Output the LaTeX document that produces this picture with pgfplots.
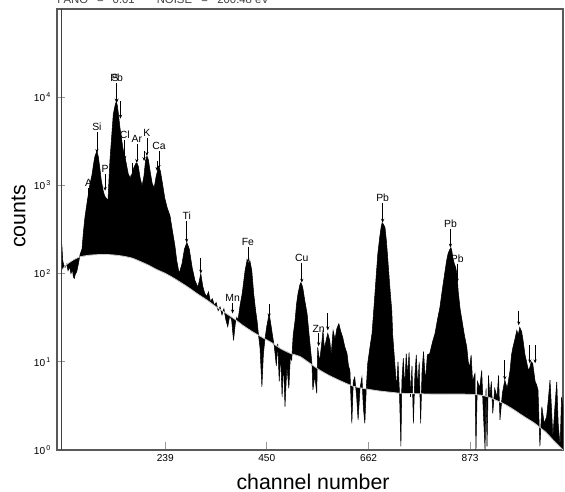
\documentclass[border=0pt]{standalone}
\usepackage{fontspec}
\setmainfont{Liberation Sans}
\usepackage{pgfplots}
\pgfplotsset{compat=1.18}
\usepgfplotslibrary{fillbetween}
\usetikzlibrary{arrows.meta}

% peak marker: channel, arrow tail, arrow head, label
\newcommand{\pk}[4]{%
  \draw[-{Stealth[length=3pt,width=2.4pt]}, line width=0.5pt] (axis cs:#1,#2) -- (axis cs:#1,#3);
  \node[anchor=south, inner sep=0.8pt, font=\fontsize{7.8}{9}\selectfont] at (axis cs:#1,#2) {#4};}
\newcommand{\ar}[3]{%
  \draw[-{Stealth[length=3pt,width=2.4pt]}, line width=0.5pt] (axis cs:#1,#2) -- (axis cs:#1,#3);}

\begin{document}
\begin{tikzpicture}
\begin{axis}[
  scale only axis, width=379.5pt, height=330.75pt,
  xmin=14, xmax=1066, ymin=1, ymax=1e5, ymode=log,
  xtick={239,450,662,873}, xticklabels={239,450,662,873},
  ytick={1,10,100,1000,10000},
  yticklabels={10\textsuperscript{\,0},10\textsuperscript{\,1},10\textsuperscript{\,2},10\textsuperscript{\,3},10\textsuperscript{\,4}},
  yminorticks=false,
  tick pos=left, tick align=inside, major tick length=6pt,
  tick style={black!40, line width=0.6pt},
  axis line style={black!65, line width=0.8pt},
  ticklabel style={font=\fontsize{7.6}{9}\selectfont},
  yticklabel style={xshift=-1pt},
  xlabel={channel number}, ylabel={counts},
  label style={font=\fontsize{16}{18}\selectfont},
  xlabel style={at={(axis description cs:0.506,-0.072)}, anchor=center},
  ylabel style={at={(axis description cs:-0.076,0.53)}, anchor=center},
]
% measured spectrum
\addplot[name path=spec, draw=black, line width=0.4pt] coordinates {
(24,215) (26,140) (28,125) (31,118) (34,128) (37,108) (40,120) (43,100) (46,112) (48,92) (50,88) (52,98) (55,105) (58,125)
(62,165) (66,190) (69,300) (72,430) (75,560) (78,720) (82,1000) (87,1340) (90,1750) (93,2150) (97,2450) (100,2100)
(103,1580) (106,1150) (110,870) (113,760) (116,720) (120,680) (124,1900) (128,3800) (131,6400) (135,8200) (137,8800)
(139,8300) (141,6950) (145,4450) (151,2650) (157,1890) (162,1360) (166,1215) (170,1350) (174,1600) (178,1780) (180,1800)
(183,1650) (187,1200) (191,990) (195,1300) (198,1900) (201,2150) (204,1950) (208,1400) (212,1050) (216,940) (220,1250)
(224,1550) (226,1600) (229,1450) (234,990) (238,720) (243,560) (249,450) (253,330) (259,210) (263,140) (268,100)
(274,130) (279,190) (284,225) (289,190) (295,117) (301,83) (307,70) (313,100) (317,72) (321,60) (325,55) (329,62)
(333,48) (337,52) (341,44) (345,47) (349,38) (353,42) (357,34) (361,40) (365,30) (369,25) (373,33) (377,30) (381,17.5)
(385,28) (388,32) (390,29) (395,45) (399,59) (405,108) (409,140) (413,130) (415,140) (419,108) (423,59) (427,38)
(430,29) (433,20) (436,14.6) (440,5.2) (443,12) (446,17.5) (450,25) (455,35) (458,28) (462,20) (466,14.6) (470,9)
(473,16) (476,6) (479,12) (482,4) (485,10) (488,3.1) (492,9) (496,5) (499,11) (502,10.4) (505,20) (509,29.4) (512,45)
(515,59) (519,75) (521,79) (523,75) (525,69) (529,50) (534,35) (539,18) (544,9.6) (546,4.8) (550,7) (554,4.4)
(556,14.6) (560,10) (565,17.5) (567,22.7) (570,14) (574,18) (577,21) (581,17.5) (584,12) (588,22.7) (592,18) (596,24)
(600,27) (604,22) (608,19) (612,15) (617,12.4) (620,9) (623,8) (625,4) (627,2) (630,6) (633,6.7) (637,4) (640,2.2)
(644,5) (648,6.7) (651,3) (654,2) (657,5) (660,9.6) (665,15) (669,21) (672,35) (675,59) (678,100) (681,168) (685,260)
(688,340) (690,377) (693,360) (696,331) (699,230) (702,140) (706,70) (710,38) (712,20) (715,12) (717,8.6) (720,5)
(723,10) (726,4.5) (729,1.1) (731,6) (734,11) (737,5) (740,12.4) (743,7) (746,12.8) (749,4) (752,9) (755,2) (758,7)
(761,12) (764,5) (767,10) (770,2) (773,8) (776,13) (780,6) (784,12) (789,12.4) (795,17) (800,21) (805,30) (810,41)
(815,65) (820,100) (824,140) (827,168) (830,185) (833,197) (835,180) (837,150) (840,130) (843,117) (846,95) (848,64)
(852,40) (856,29.4) (861,20) (866,14.6) (869,10) (872,8.6) (875,12) (878,6) (883,7.4) (885,1) (888,6) (893,5.1)
(897,8) (900,3) (904,1) (906,5) (908,1.1) (911,7) (914,4) (917,6) (920,2.6) (924,5) (929,4) (932,7) (935,2.2)
(940,4.4) (945,6.2) (950,5) (956,8) (959,12) (962,14.6) (966,18) (970,22.7) (973,20) (976,24.6) (980,22) (983,17.5)
(987,12) (991,9.6) (994,8) (997,8.6) (1000,10) (1003,9.6) (1008,6) (1011,5.5) (1014,4.8) (1018,1.1) (1022,3.1)
(1027,2) (1032,2.4) (1036,4) (1039,6.2) (1042,3) (1045,1.4) (1049,3) (1053,5.9) (1056,2) (1060,1.1) (1063,4) (1066,3.1)
};
% fitted background
\addplot[name path=bg, draw=none] coordinates {
(24,110) (35,128) (50,145) (62,155) (83,162) (110,165) (130,163) (150,158) (170,150) (186,138) (205,124) (220,112)
(240,100) (255,90) (275,77) (290,68) (310,57) (326,50) (345,42) (367,35) (385,30) (400,26) (420,22) (440,19)
(460,16.5) (480,14) (500,12.4) (519,11.5) (540,9.6) (561,8) (580,7) (600,6.2) (629,5.3) (650,5) (680,4.7) (710,4.5)
(727,4.4) (760,4.35) (800,4.3) (860,4.3) (893,4.2) (910,4.0) (930,3.6) (945,3.3) (962,2.9) (975,2.6) (990,2.3)
(1005,2.05) (1018,1.8) (1030,1.6) (1040,1.4) (1050,1.22) (1060,1.08) (1066,1.0)
};
\addplot[black] fill between[of=spec and bg];
\addplot[draw=black!20, line width=0.6pt, smooth] coordinates {
(24,110) (35,128) (50,145) (62,155) (83,162) (110,165) (130,163) (150,158) (170,150) (186,138) (205,124) (220,112)
(240,100) (255,90) (275,77) (290,68) (310,57) (326,50) (345,42) (367,35) (385,30) (400,26) (420,22) (440,19)
(460,16.5) (480,14) (500,12.4) (519,11.5) (540,9.6) (561,8) (580,7) (600,6.2) (629,5.3) (650,5) (680,4.7) (710,4.5)
(727,4.4) (760,4.35) (800,4.3) (860,4.3) (893,4.2) (910,4.0) (930,3.6) (945,3.3) (962,2.9) (975,2.6) (990,2.3)
(1005,2.05) (1018,1.8) (1030,1.6) (1040,1.4) (1050,1.22) (1060,1.08) (1066,1.0)
};
% start-of-spectrum spike
\addplot[black!75, line width=0.7pt] coordinates {(24,1) (24,100000)};

\pk{79.5}{937}{619}{A}
\pk{97}{4025}{2330}{Si}
\pk{114}{1350}{867}{P}
\draw[-{Stealth[length=3.5pt,width=3pt]}, line width=1.1pt] (axis cs:138,14400) -- (axis cs:138,8550);
\node[anchor=south, inner sep=0.8pt, font=\fontsize{7.8}{9}\selectfont] at (axis cs:138,14400) {Pb};
\node[anchor=south, inner sep=0.8pt, font=\fontsize{7.8}{9}\selectfont, xshift=-1.2pt] at (axis cs:138,14400) {S};
\pk{155}{3265}{1960}{Cl}
\pk{180}{2945}{1795}{Ar}
\pk{201}{3440}{2155}{K}
\pk{226}{2455}{1535}{Ca}
\pk{283.6}{397}{224}{Ti}
\pk{379}{47}{35.3}{Mn}
\pk{411}{202}{133}{Fe}
\pk{523}{133}{79}{Cu}
\pk{558}{21}{15}{Zn}
\pk{691}{634}{377}{Pb}
\pk{832}{322}{197}{Pb}
\pk{846}{130}{79}{Pb}
\ar{146}{9016}{5700}
\ar{170}{1795}{1170}
\ar{195}{2455}{1890}
\ar{222}{1890}{1460}
\ar{248}{452}{283}
\ar{313}{152}{100}
\ar{455}{45.7}{31.8}
\ar{577}{35.3}{22.7}
\ar{852}{31.8}{21}
\ar{945}{10.4}{6.2}
\ar{974}{38}{25.9}
\ar{997}{15.4}{9.6}
\ar{1008}{15.4}{9.6}
\end{axis}
\node[anchor=base west, inner sep=0pt, font=\fontsize{8.5}{10}\selectfont, text=black!75] at (0pt,334.5pt)
  {FANO\hspace{6.75pt}=\hspace{6.75pt}0.01\hspace{16.5pt}NOISE\hspace{7pt}=\hspace{7pt}200.48 eV};
\pgfresetboundingbox
\useasboundingbox (-42.75pt,-31.5pt) rectangle (381pt,337.5pt);
\end{tikzpicture}
\end{document}
